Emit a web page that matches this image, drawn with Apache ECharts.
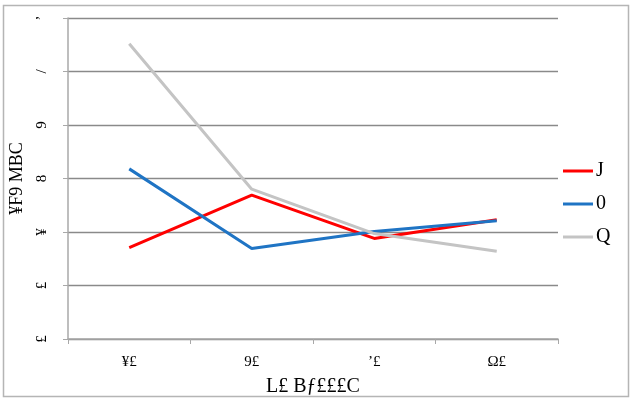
<!DOCTYPE html>
<html>
<head>
<meta charset="utf-8">
<script src="https://cdn.jsdelivr.net/npm/echarts@6/dist/echarts.min.js"></script>
<style>
html,body{margin:0;padding:0;background:#fff;}
#c{width:633px;height:402px;}
</style>
</head>
<body>
<div id="c"></div>
<script>
const categories = ["¥£", "9£", "ʼ£", "Ω£"];
const yTickLabels = ["£", "£", "¥", "8", "9", "/", "ʼ"];
const seriesNames = ["J", "0", "Q"];
const redValues = [1.71, 2.69, 1.88, 2.23];
const blueValues = [3.18, 1.69, 2.01, 2.21];
const grayValues = [5.52, 2.80, 1.97, 1.64];
const xTitle = "L£ Bƒ£££C";
const yTitle = "¥F9 MBC";

const colors = ["#ff0000", "#1f74c4", "#c4c4c4"];
const font = "'Liberation Serif', 'DejaVu Serif', serif";

const chart = echarts.init(document.getElementById('c'));
const mk = (name, data, color) => ({
  name: name, type: 'line', data: data, symbol: 'none',
  lineStyle: {color: color, width: 3}, itemStyle: {color: color}
});
chart.setOption({
  animation: false,
  graphic: [{
    type: 'rect', shape: {x: 3.5, y: 5.5, width: 625, height: 391},
    style: {fill: 'none', stroke: '#b5b5b5', lineWidth: 1.5}, silent: true
  }],
  grid: {left: 67, right: 75, top: 18, bottom: 58},
  legend: {
    orient: 'vertical', left: 558, top: 156,
    itemWidth: 30, itemHeight: 3, itemGap: 13, icon: 'rect',
    textStyle: {fontFamily: font, fontSize: 20, color: '#000', padding: [0,0,0,-2]},
    data: seriesNames
  },
  xAxis: {
    type: 'category', data: categories, boundaryGap: true,
    name: xTitle, nameLocation: 'middle', nameGap: 38,
    nameTextStyle: {fontFamily: font, fontSize: 20, color: '#000'},
    axisLine: {lineStyle: {color: '#a8a8a8', width: 1.5}},
    axisTick: {show: true, length: 5, lineStyle: {color: '#a8a8a8'}},
    axisLabel: {fontFamily: font, fontSize: 15, color: '#000', margin: 16}
  },
  yAxis: {
    type: 'value', min: 0, max: 6, interval: 1,
    name: yTitle, nameLocation: 'middle', nameGap: 42, nameRotate: 90,
    nameTextStyle: {fontFamily: font, fontSize: 18, color: '#000'},
    axisLine: {show: true, lineStyle: {color: '#a8a8a8', width: 1.5}},
    axisTick: {show: true, length: 5, lineStyle: {color: '#a8a8a8'}},
    splitLine: {lineStyle: {color: '#8a8a8a', width: 1.3}},
    axisLabel: {
      fontFamily: font, fontSize: 15, color: '#000', rotate: 90, margin: 18,
      formatter: function (v) { return yTickLabels[Math.round(v)]; }
    }
  },
  series: [
    mk(seriesNames[0], redValues, colors[0]),
    mk(seriesNames[1], blueValues, colors[1]),
    mk(seriesNames[2], grayValues, colors[2])
  ]
});
</script>
</body>
</html>
